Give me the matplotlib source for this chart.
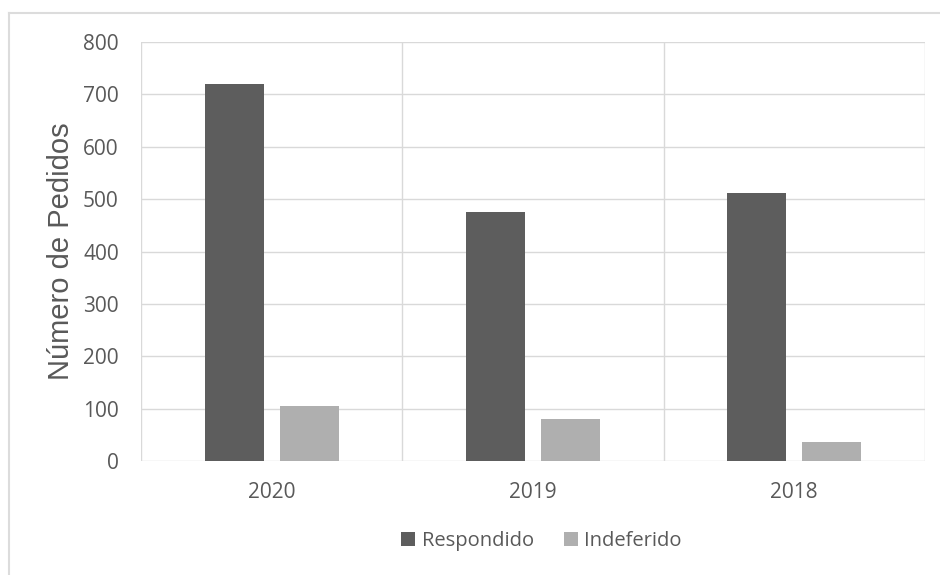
import matplotlib.pyplot as plt
from matplotlib.lines import Line2D
import numpy as np

# Pedidos por ano
years = ['2020', '2019', '2018']
respondido = [720, 475, 511]
indeferido = [105, 80, 36]

DARK = '#5d5d5d'
LIGHT = '#afafaf'
GRID = '#d9d9d9'
TEXT = '#595959'

fig = plt.figure(figsize=(9.4, 5.75), dpi=100)
ax = fig.add_axes([0.15, 0.198, 0.834, 0.729])

x = np.arange(len(years))
width = 0.226
offset = 0.144
ax.bar(x - offset, respondido, width, color=DARK, label='Respondido', zorder=3)
ax.bar(x + offset, indeferido, width, color=LIGHT, label='Indeferido', zorder=3)

ax.set_xlim(-0.5, len(years) - 0.5)
ax.set_ylim(0, 800)
ax.set_yticks(np.arange(0, 801, 100))
ax.set_xticks(x)
ax.set_xticklabels(years)

# grid: horizontal at each tick, vertical at category boundaries
for yv in np.arange(0, 801, 100):
    ax.axhline(yv, color=GRID, lw=1, zorder=1)
for xv in np.arange(-0.5, len(years), 1.0):
    ax.axvline(xv, color=GRID, lw=1, zorder=1)

for s in ax.spines.values():
    s.set_visible(False)
ax.tick_params(length=0, labelsize=15, labelcolor=TEXT)
ax.tick_params(axis='y', pad=16)
ax.tick_params(axis='x', pad=15)
for lab in ax.get_xticklabels() + ax.get_yticklabels():
    lab.set_family('Open Sans')

ax.set_ylabel('Número de Pedidos', fontsize=21, color=TEXT,
              family='Liberation Sans', labelpad=6)

leg = fig.legend(loc='center', bbox_to_anchor=(0.576, 0.059), ncol=2,
                 frameon=False, handlelength=0.7, handleheight=0.7,
                 handletextpad=0.3, columnspacing=1.5,
                 prop={'family': 'Open Sans', 'size': 14.5})
for t in leg.get_texts():
    t.set_color(TEXT)

# outer frame
fig.add_artist(Line2D([9 / 940, 1.0], [1 - 13 / 575, 1 - 13 / 575],
                      transform=fig.transFigure, color='#dcdcdc', lw=1.5))
fig.add_artist(Line2D([9 / 940, 9 / 940], [0.0, 1 - 13 / 575],
                      transform=fig.transFigure, color='#dcdcdc', lw=1.5))

fig.savefig('out.png', dpi=100)
